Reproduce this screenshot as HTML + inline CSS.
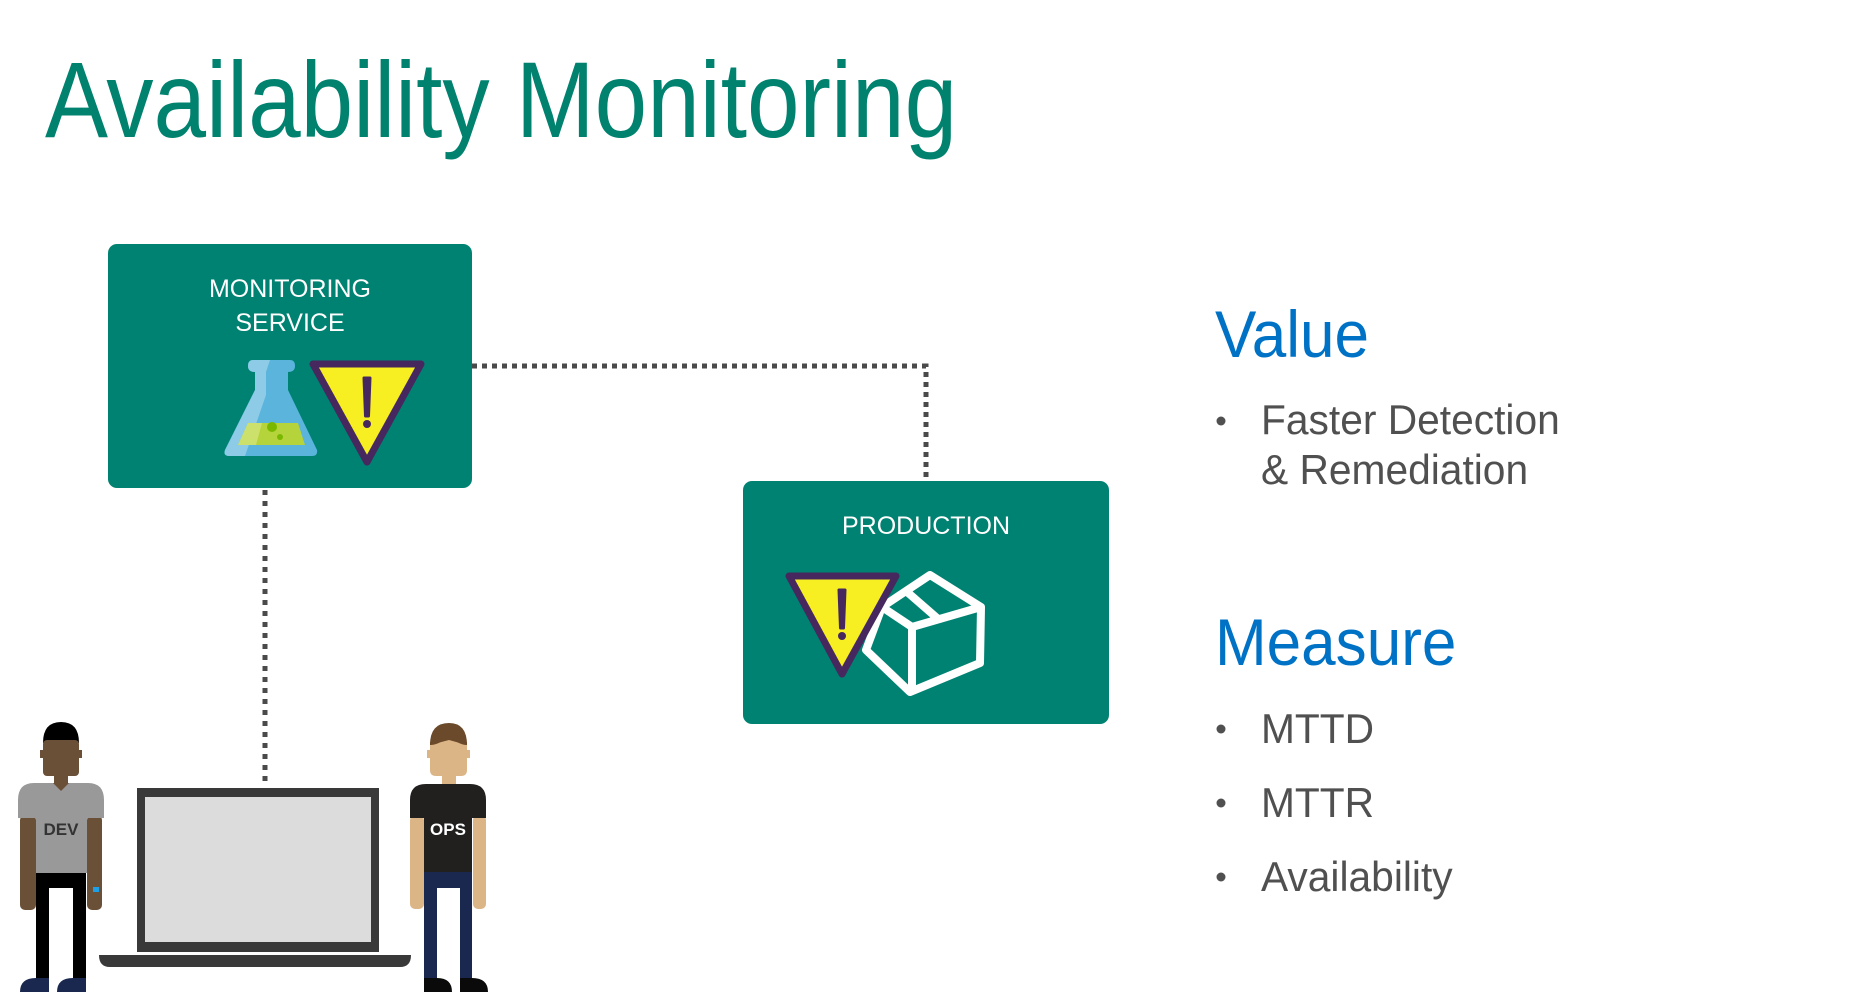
<!DOCTYPE html>
<html><head><meta charset="utf-8"><style>
html,body{margin:0;padding:0;background:#fff;}
body{width:1872px;height:1002px;overflow:hidden;position:relative;}
</style></head><body>
<svg width="1872" height="1002" viewBox="0 0 1872 1002" xmlns="http://www.w3.org/2000/svg" style="position:absolute;left:0;top:0">
<text x="45" y="137" font-family="Liberation Sans, sans-serif" font-size="108" fill="#00826f" transform="translate(45 0) scale(0.875 1) translate(-45 0)">Availability Monitoring</text>

<!-- connectors -->
<path d="M472 366 H926 V481" fill="none" stroke="#4a4a4a" stroke-width="5" stroke-dasharray="5 5"/>
<path d="M265 490 V782" fill="none" stroke="#4a4a4a" stroke-width="5" stroke-dasharray="5 6"/>

<!-- monitoring box -->
<rect x="108" y="244" width="364" height="244" rx="9" fill="#008272"/>
<!-- production box -->
<rect x="743" y="481" width="366" height="243" rx="9" fill="#008272"/>
<g font-family="Liberation Sans, sans-serif" font-size="25" fill="#fff" text-anchor="middle">
<text x="290" y="297">MONITORING</text>
<text x="290" y="331">SERVICE</text>
<text x="926" y="534">PRODUCTION</text>
</g>
<!-- flask -->
<path d="M253 360 H290 Q295 360 295 366 Q295 372 288 372 V390 L317 450 Q318 456 312 456 H229 Q223 456 225 450 L255 390 V372 Q248 372 248 366 Q248 360 253 360Z" fill="#5ab4dc"/>
<path d="M253 360 H270 L266 372 V395 L245 456 H229 Q223 456 225 450 L255 390 V372 Q248 372 248 366 Q248 360 253 360Z" fill="#8dcbe6"/>
<path d="M248 423 H298 L305 445 H238Z" fill="#b5d33a"/>
<path d="M248 423 H262 L256 445 H238Z" fill="#cce06c"/>
<circle cx="272" cy="427" r="5" fill="#7ab800"/><circle cx="280" cy="437" r="3" fill="#7ab800"/>
<!-- triangle 1 -->
<path d="M313 364 H421 L367 462Z" fill="#f7ef22" stroke="#46285e" stroke-width="7" stroke-linejoin="round"/>
<path d="M364 378 H370 L368.5 416 H365.5Z" fill="#46285e" stroke="#46285e" stroke-width="3" stroke-linejoin="round"/>
<circle cx="367" cy="424" r="4" fill="#46285e"/>

<!-- cube -->
<g fill="none" stroke="#fff" stroke-width="8" stroke-linejoin="round">
<path d="M930 575 L981 607 L980 663 L910 692 L866 650 L882 607Z"/>
<path d="M882 607 L912 627 L981 607"/>
<path d="M912 627 V692"/>
<path d="M906 591 L937 618"/>
</g>
<!-- triangle 2 -->
<path d="M789 576 H896 L842 674Z" fill="#f7ef22" stroke="#46285e" stroke-width="7" stroke-linejoin="round"/>
<path d="M839 590 H845 L843.5 628 H840.5Z" fill="#46285e" stroke="#46285e" stroke-width="3" stroke-linejoin="round"/>
<circle cx="842" cy="636" r="4" fill="#46285e"/>

<!-- laptop -->
<rect x="137" y="788" width="242" height="164" fill="#393939"/>
<rect x="145" y="797" width="226" height="145" fill="#dcdcdc"/>
<path d="M99 955 H411 Q411 967 400 967 H110 Q99 967 99 955Z" fill="#393939"/>

<!-- DEV person -->
<path d="M43 743 Q43 722 61 722 Q79 722 79 743Z" fill="#000"/>
<rect x="40" y="750" width="4" height="8" fill="#6b4f36"/><rect x="78" y="750" width="4" height="8" fill="#6b4f36"/>
<rect x="43" y="740" width="36" height="36" rx="4" fill="#6b5038"/>
<rect x="54" y="774" width="14" height="10" fill="#6b5038"/>
<rect x="20" y="815" width="16" height="95" rx="5" fill="#6b5038"/>
<rect x="87" y="815" width="15" height="95" rx="5" fill="#6b5038"/>
<path d="M18 800 Q18 783 34 783 H88 Q104 783 104 800 V818 H87 V873 H36 V818 H18Z" fill="#999"/>
<path d="M53 783 L61 791 L69 783Z" fill="#6b5038"/>
<text x="61" y="835" font-family="Liberation Sans, sans-serif" font-weight="bold" font-size="17" fill="#333" text-anchor="middle">DEV</text>
<rect x="93" y="887" width="6" height="5" fill="#1ea0e6"/>
<path d="M36 873 H86 V978 H73 V888 H49 V978 H36Z" fill="#000"/>
<path d="M20 992 Q20 978 36 978 H49 V992Z M57 992 Q57 978 73 978 H86 V992Z" fill="#1a2850"/>

<!-- OPS person -->
<path d="M430 745 Q430 723 449 723 Q467 723 467 745Z" fill="#6b4a2b"/>
<rect x="427" y="750" width="4" height="8" fill="#dcb587"/><rect x="466" y="750" width="4" height="8" fill="#dcb587"/>
<path d="M430 745 L449 740 L467 745 V770 Q467 776 461 776 H436 Q430 776 430 770Z" fill="#dcb587"/>
<path d="M430 745 Q440 745 449 735 Q458 745 467 745 V742 Q458 738 449 730 Q440 738 430 742Z" fill="#6b4a2b"/>
<rect x="442" y="774" width="14" height="10" fill="#dcb587"/>
<rect x="410" y="815" width="14" height="94" rx="5" fill="#dcb587"/>
<rect x="473" y="815" width="13" height="94" rx="5" fill="#dcb587"/>
<path d="M410 800 Q410 784 426 784 H470 Q486 784 486 800 V818 H472 V872 H424 V818 H410Z" fill="#221f1f"/>
<text x="448" y="835" font-family="Liberation Sans, sans-serif" font-weight="bold" font-size="17" fill="#fff" text-anchor="middle">OPS</text>
<path d="M424 872 H472 V978 H460 V888 H437 V978 H424Z" fill="#1a2850"/>
<path d="M424 992 V978 H437 Q452 978 452 992Z M460 992 V978 H472 Q488 978 488 992Z" fill="#0a0a0a"/>

<!-- right text -->
<g font-family="Liberation Sans, sans-serif">
<text x="1215" y="357" font-size="66" fill="#0072c6" transform="translate(1215 0) scale(0.94 1) translate(-1215 0)">Value</text>
<text x="1215" y="665" font-size="66" fill="#0072c6" transform="translate(1215 0) scale(0.94 1) translate(-1215 0)">Measure</text>
<g fill="#505050" font-size="42" transform="translate(1261 0) scale(0.97 1) translate(-1261 0)">
<text x="1261" y="434">Faster Detection</text>
<text x="1261" y="484">&amp; Remediation</text>
<text x="1261" y="743">MTTD</text>
<text x="1261" y="817">MTTR</text>
<text x="1261" y="891">Availability</text>
</g>
<g fill="#505050">
<circle cx="1221" cy="421" r="4.5"/>
<circle cx="1221" cy="729" r="4.5"/>
<circle cx="1221" cy="803" r="4.5"/>
<circle cx="1221" cy="877" r="4.5"/>
</g>
</g>
</svg>
</body></html>
